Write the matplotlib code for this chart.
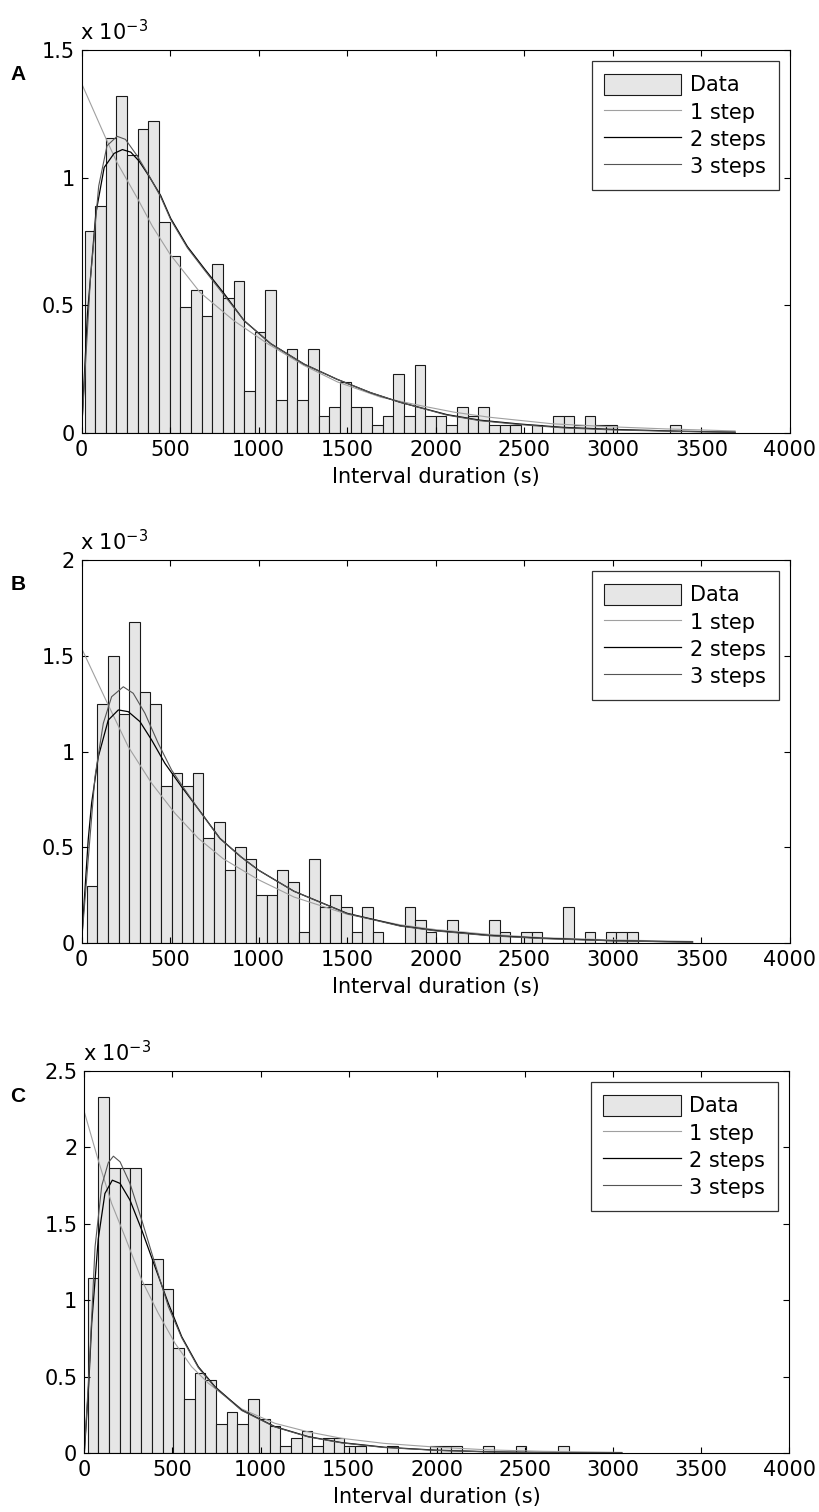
import numpy as np
import matplotlib.pyplot as plt
from matplotlib.patches import Patch
from matplotlib.lines import Line2D

plt.rcParams['font.family'] = ['DejaVu Sans']
plt.rcParams['mathtext.default'] = 'regular'
plt.rcParams['font.size'] = 15

x_ticks = [0, 500, 1000, 1500, 2000, 2500, 3000, 3500, 4000]

# ---- panel A ----
a_bin_start, a_bin_width = 17, 60.1
a_heights = [0.79, 0.89, 1.155, 1.32, 1.09, 1.19, 1.22, 0.825, 0.695, 0.495,
             0.56, 0.46, 0.66, 0.53, 0.595, 0.165, 0.395, 0.56, 0.13, 0.33,
             0.13, 0.33, 0.065, 0.1, 0.2, 0.1, 0.1, 0.033, 0.065, 0.23,
             0.065, 0.265, 0.065, 0.065, 0.033, 0.1, 0.065, 0.1, 0.033, 0.033,
             0.033, 0, 0.033, 0, 0.065, 0.065, 0.033, 0.065, 0.033, 0.033,
             0, 0, 0, 0, 0, 0.033]
a_one_x = [0, 70, 140, 200, 315, 400, 500, 670, 860, 1050, 1255, 1445, 1690, 1930, 2100, 2300, 2660, 3000, 3300, 3690]
a_one_y = [1.37, 1.26, 1.15, 1.06, 0.92, 0.81, 0.70, 0.55, 0.44, 0.35, 0.265, 0.2, 0.14, 0.105, 0.082, 0.062, 0.036, 0.024, 0.016, 0.008]
a_two_x = [0, 34, 81, 128, 184, 231, 278, 325, 382, 447, 504, 598, 692, 805, 918, 1068, 1256, 1444, 1632, 1800, 2063, 2251, 2476, 2720, 3002, 3378, 3690]
a_two_y = [0.0, 0.47, 0.86, 1.04, 1.095, 1.11, 1.10, 1.065, 1.005, 0.93, 0.84, 0.73, 0.645, 0.546, 0.44, 0.35, 0.27, 0.21, 0.158, 0.12, 0.072, 0.05, 0.035, 0.022, 0.014, 0.007, 0.003]
a_three_x = [0, 50, 97, 144, 201, 248, 314, 382, 447, 504, 598, 692, 805, 918, 1068, 1256, 1444, 1632, 1800, 2063, 2251, 2476, 2720, 3002, 3378, 3690]
a_three_y = [0.0, 0.6, 0.967, 1.125, 1.162, 1.15, 1.086, 1.007, 0.925, 0.835, 0.725, 0.64, 0.54, 0.44, 0.35, 0.27, 0.21, 0.158, 0.12, 0.07, 0.048, 0.033, 0.02, 0.012, 0.006, 0.003]

# ---- panel B ----
b_bin_start, b_bin_width = 30, 59.8
b_heights = [0.3, 1.246, 1.5, 1.194, 1.678, 1.309, 1.246, 0.82, 0.886, 0.82,
             0.886, 0.55, 0.63, 0.38, 0.5, 0.44, 0.25, 0.25, 0.38, 0.32,
             0.06, 0.44, 0.19, 0.25, 0.19, 0.06, 0.19, 0.06, 0, 0,
             0.19, 0.12, 0.06, 0, 0.12, 0.06, 0, 0, 0.12, 0.06,
             0, 0.06, 0.06, 0, 0, 0.19, 0, 0.06, 0, 0.06,
             0.06, 0.06]
b_one_x = [0, 133, 264, 396, 528, 659, 800, 1000, 1200, 1500, 1800, 2000, 2300, 2600, 3000, 3450]
b_one_y = [1.54, 1.278, 1.025, 0.834, 0.677, 0.547, 0.44, 0.33, 0.24, 0.15, 0.095, 0.07, 0.045, 0.028, 0.016, 0.008]
b_two_x = [0, 38, 57, 95, 151, 208, 264, 330, 396, 471, 565, 678, 781, 900, 1000, 1200, 1500, 1800, 2000, 2300, 2600, 3000, 3450]
b_two_y = [0.0, 0.54, 0.73, 0.973, 1.164, 1.217, 1.208, 1.156, 1.06, 0.938, 0.816, 0.677, 0.547, 0.45, 0.38, 0.27, 0.155, 0.09, 0.065, 0.04, 0.025, 0.012, 0.005]
b_three_x = [0, 47, 76, 123, 170, 236, 292, 358, 433, 509, 584, 678, 781, 900, 1000, 1200, 1500, 1800, 2000, 2300, 2600, 3000, 3450]
b_three_y = [0.0, 0.54, 0.868, 1.147, 1.286, 1.338, 1.304, 1.2, 1.043, 0.903, 0.8, 0.675, 0.545, 0.45, 0.38, 0.27, 0.153, 0.088, 0.063, 0.038, 0.023, 0.011, 0.004]

# ---- panel C ----
c_bin_start, c_bin_width = 19, 60.7
c_heights = [1.148, 2.331, 1.863, 1.863, 1.863, 1.104, 1.27, 1.072, 0.69, 0.355,
             0.523, 0.479, 0.19, 0.268, 0.19, 0.355, 0.224, 0.18, 0.045, 0.098,
             0.146, 0.045, 0.098, 0.098, 0.045, 0.045, 0, 0, 0.045, 0,
             0, 0, 0.045, 0.045, 0.045, 0, 0, 0.045, 0, 0,
             0.045, 0, 0, 0, 0.045]
c_one_x = [0, 79, 155, 231, 326, 420, 515, 609, 704, 893, 1082, 1271, 1460, 1700, 2000, 2300, 2600, 3050]
c_one_y = [2.233, 1.917, 1.634, 1.416, 1.133, 0.915, 0.719, 0.566, 0.458, 0.29, 0.196, 0.14, 0.098, 0.065, 0.04, 0.022, 0.013, 0.006]
c_two_x = [0, 25, 42, 79, 117, 159, 203, 259, 326, 401, 477, 553, 647, 742, 893, 1082, 1271, 1460, 1700, 2000, 2300, 2600, 3050]
c_two_y = [0.0, 0.45, 0.85, 1.4, 1.699, 1.786, 1.765, 1.656, 1.46, 1.22, 0.98, 0.762, 0.566, 0.435, 0.283, 0.174, 0.109, 0.07, 0.04, 0.02, 0.01, 0.005, 0.002]
c_three_x = [0, 30, 61, 99, 136, 165, 203, 259, 326, 401, 477, 553, 647, 742, 893, 1082, 1271, 1460, 1700, 2000, 2300, 2600, 3050]
c_three_y = [0.0, 0.6, 1.35, 1.75, 1.9, 1.943, 1.906, 1.765, 1.525, 1.24, 0.959, 0.755, 0.56, 0.43, 0.28, 0.172, 0.107, 0.068, 0.038, 0.019, 0.009, 0.004, 0.002]

panels = [
    ('A', a_bin_start, a_bin_width, a_heights, (a_one_x, a_one_y), (a_two_x, a_two_y), (a_three_x, a_three_y),
     1.5, [0, 0.5, 1, 1.5], ['0', '0.5', '1', '1.5']),
    ('B', b_bin_start, b_bin_width, b_heights, (b_one_x, b_one_y), (b_two_x, b_two_y), (b_three_x, b_three_y),
     2.0, [0, 0.5, 1, 1.5, 2], ['0', '0.5', '1', '1.5', '2']),
    ('C', c_bin_start, c_bin_width, c_heights, (c_one_x, c_one_y), (c_two_x, c_two_y), (c_three_x, c_three_y),
     2.5, [0, 0.5, 1, 1.5, 2, 2.5], ['0', '0.5', '1', '1.5', '2', '2.5']),
]

W, H = 819, 1512
boxes = [(81.5, 50, 790, 433), (81.5, 560, 790, 943), (84.3, 1071, 789.3, 1453.3)]

fig = plt.figure(figsize=(W / 100, H / 100), dpi=100)

bar_face = '#e6e6e6'
c_one, c_two, c_three = '#a0a0a0', '#000000', '#555555'

for (letter, b0, bw, heights, one, two, three, ymax, yt, ytl), (x0, y0, x1, y1) in zip(panels, boxes):
    ax = fig.add_axes([x0 / W, 1 - y1 / H, (x1 - x0) / W, (y1 - y0) / H])
    edges = b0 + bw * np.arange(len(heights))
    ax.bar(edges, heights, width=bw, align='edge', color=bar_face, edgecolor='#1a1a1a', linewidth=0.8)
    ax.plot(one[0], one[1], color=c_one, lw=0.8)
    ax.plot(two[0], two[1], color=c_two, lw=0.9)
    ax.plot(three[0], three[1], color=c_three, lw=0.8)

    ax.set_xlim(0, 4000)
    ax.set_ylim(0, ymax)
    ax.set_xticks(x_ticks)
    ax.set_yticks(yt)
    ax.set_yticklabels(ytl)
    ax.tick_params(direction='in', top=True, right=True, length=4, width=0.8, labelsize=15)
    ax.tick_params(axis='x', pad=5)
    ax.tick_params(axis='y', pad=5)
    for s in ax.spines.values():
        s.set_linewidth(0.8)
    ax.set_xlabel('Interval duration (s)', fontsize=15, labelpad=5)

    ax.annotate('x 10$^{-3}$', xy=(0, 1), xycoords='axes fraction', xytext=(-1, 7),
                textcoords='offset points', ha='left', va='baseline', fontsize=15)
    fig.text(18 / W, 1 - (y0 + 25) / H, letter, fontsize=15, fontweight='bold',
             family=['Liberation Sans', 'DejaVu Sans'], ha='center', va='center')

    handles = [Patch(facecolor=bar_face, edgecolor='#1a1a1a', linewidth=0.8),
               Line2D([], [], color=c_one, lw=0.8),
               Line2D([], [], color=c_two, lw=0.9),
               Line2D([], [], color=c_three, lw=0.8)]
    leg = ax.legend(handles, ['Data', '1 step', '2 steps', '3 steps'], loc='upper right',
                    fontsize=15, frameon=True, fancybox=False, edgecolor='black',
                    handlelength=3.7, handleheight=1.15, handletextpad=0.43,
                    labelspacing=0.28, borderpad=0.6, borderaxespad=0.55)
    leg.get_frame().set_linewidth(0.9)

fig.savefig('out.png', dpi=100, facecolor='white')
